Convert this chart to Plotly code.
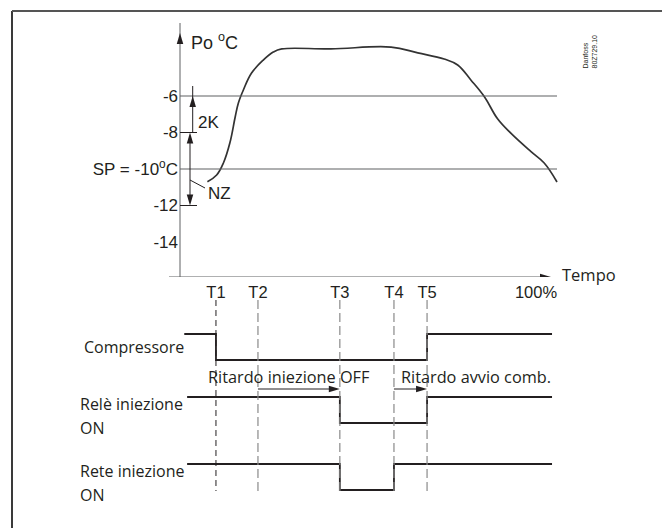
import plotly.graph_objects as go

# ---------------- data ----------------
# evaporating pressure curve (time in % of cycle, temperature in degC)
curve_t = [7.7, 10.3, 12.2, 14.0, 15.5, 16.4, 17.8, 20.1, 23.4, 26.2, 28.6,
           42.4, 59.3, 66.8, 74.2, 78.0, 81.7, 85.5, 89.2, 93.0, 98.6, 102.3, 105.9]
curve_temp = [-10.70, -10.33, -9.67, -8.58, -7.15, -6.38, -5.67, -4.74, -4.03, -3.59, -3.42,
              -3.42, -3.32, -3.64, -3.97, -4.30, -5.12, -6.04, -7.25, -8.05, -9.05, -9.67, -10.71]

# reference temperatures
setpoint = -10
upper_limit = -6
nz_top = -8
nz_bottom = -12
y_ticks = [-6, -8, -10, -12, -14]
y_ticktext = ["-6", "-8", "SP = -10<sup>o</sup>C", "-12", "-14"]

# event times
event_names = ["T1", "T2", "T3", "T4", "T5"]
event_times = [10.1, 21.9, 44.9, 60.1, 69.4]
end_label = "100%"
end_time = 100

# digital signals (time of each change, state after change)
comp_t = [1.2, 10.1, 69.4, 104.5]
comp_s = [1, 0, 1, 1]
rele_t = [2.0, 44.9, 69.4, 104.5]
rele_s = [1, 0, 1, 1]
rete_t = [2.0, 44.9, 60.1, 104.5]
rete_s = [1, 0, 1, 1]

# ---------------- geometry ----------------
W, H = 662, 528
X0_PX = 180.0          # pixel column of t = 0
PX_PER_T = 3.56        # pixels per % of time
YREF_PX = 96.0         # pixel row of -6 degC
PX_PER_DEG = 18.25     # pixels per degC
SPLIT_PX = 277.0       # row of the time axis

x_range = [(0 - X0_PX) / PX_PER_T, (W - X0_PX) / PX_PER_T]
y_top = upper_limit + YREF_PX / PX_PER_DEG
y_bot = upper_limit - (SPLIT_PX - YREF_PX) / PX_PER_DEG
split_frac = 1 - SPLIT_PX / H


def tx(px):
    return (px - X0_PX) / PX_PER_T


def ty(py):
    return upper_limit - (py - YREF_PX) / PX_PER_DEG


UP_FONT = "Liberation Sans, Arial, sans-serif"
LO_FONT = "Open Sans, sans-serif"
INK = "#231f20"
GREY = "#5f6062"

fig = go.Figure()
shapes = []
annotations = []


def arrowhead(x, y, direction, yref="y", length=11, width=6.5, color=INK):
    """Filled triangular head with its tip at (x, y); direction in screen pixels."""
    dx, dy = direction
    sy = -1 / PX_PER_DEG if yref == "y" else 1.0
    bx, by = -dx * length, -dy * length
    px_, py_ = -dy * width / 2, dx * width / 2
    pts = [(0, 0), (bx + px_, by + py_), (bx - px_, by - py_)]
    coords = [(x + a / PX_PER_T, y + b * sy) for a, b in pts]
    path = "M{},{} L{},{} L{},{} Z".format(*[v for p in coords for v in p])
    shapes.append(dict(type="path", path=path, xref="x", yref=yref,
                       fillcolor=color, line=dict(width=0)))


def seg(x0, y0, x1, y1, yref="y", color=INK, width=1, dash="solid"):
    shapes.append(dict(type="line", x0=x0, y0=y0, x1=x1, y1=y1, xref="x", yref=yref,
                       line=dict(color=color, width=width, dash=dash)))


# outer frame
shapes.append(dict(type="line", xref="paper", yref="paper", x0=12 / W, x1=12 / W,
                   y0=0, y1=1 - 11 / H, line=dict(color="#3a3a3a", width=2)))
shapes.append(dict(type="line", xref="paper", yref="paper", x0=12 / W, x1=1,
                   y0=1 - 11 / H, y1=1 - 11 / H, line=dict(color="#555555", width=2)))

# temperature axis with arrow
y_arrow_tip = ty(33)
seg(0, y_bot, 0, y_arrow_tip + 10 / PX_PER_DEG, color=GREY)
arrowhead(0, y_arrow_tip, (0, -1))
# time axis with arrow
t_arrow_tip = tx(551)
seg(tx(169), y_bot, t_arrow_tip - 10 / PX_PER_T, y_bot, color=GREY)
arrowhead(t_arrow_tip, y_bot, (1, 0))

# reference lines at -6 and SP
for v in (upper_limit, setpoint):
    seg(0, v, curve_t[-1], v, color=GREY, width=1.2)
# short ticks at the neutral zone limits
for v in (nz_top, nz_bottom):
    seg(0, v, tx(197), v, color=INK, width=1)

# 2K arrow
x2k = tx(192.7)
seg(x2k, nz_top, x2k, upper_limit + 10 / PX_PER_DEG)
arrowhead(x2k, upper_limit, (0, -1))
# NZ double arrow
xnz = tx(190)
seg(xnz, nz_top - 10 / PX_PER_DEG, xnz, nz_bottom + 10 / PX_PER_DEG)
arrowhead(xnz, nz_top, (0, -1))
arrowhead(xnz, nz_bottom, (0, 1))
# NZ leader
seg(xnz, ty(180), tx(205), ty(188), width=1)

# pressure curve
fig.add_trace(go.Scatter(x=curve_t, y=curve_temp, mode="lines", xaxis="x", yaxis="y",
                         line=dict(color="#333333", width=1.7, shape="spline", smoothing=1.1),
                         hoverinfo="skip"))

# event markers (dashed verticals)
for i, t in enumerate(event_times):
    if i == 0:
        seg(t, 300, t, 491, yref="y2", color=INK, width=1, dash="6px,4px")
    else:
        seg(t, 300, t, 491, yref="y2", color="#8a8a8a", width=1.2, dash="9px,4px")

# digital signals
AMP = 26
rows = [(comp_t, comp_s, 360), (rele_t, rele_s, 423), (rete_t, rete_s, 490)]
for ts, ss, base in rows:
    fig.add_trace(go.Scatter(x=ts, y=[base - s * AMP for s in ss], mode="lines",
                             xaxis="x", yaxis="y2", hoverinfo="skip",
                             line=dict(color=INK, width=1.8, shape="hv")))

# delay arrows
Y_DELAY = 389
for t0, t1 in ((event_times[1], event_times[2]), (event_times[3], event_times[4])):
    seg(t0, Y_DELAY, t1 - 10 / PX_PER_T, Y_DELAY, yref="y2", width=1)
    arrowhead(t1, Y_DELAY, (1, 0), yref="y2")

# ---------------- text ----------------
def note(text, x, y, yref="y", xanchor="left", size=15, family=UP_FONT, **kw):
    annotations.append(dict(text=text, x=x, y=y, xref="x", yref=yref, xanchor=xanchor,
                            yanchor="middle", showarrow=False,
                            font=dict(family=family, size=size, color=INK), **kw))


note("Po <sup>o</sup>C", tx(189), ty(41.7), size=18)
note("2K", tx(196), ty(122.5), size=17)
note("NZ", tx(206), ty(193), size=17)
note("Tempo", tx(560), ty(274), size=16.5, family=LO_FONT)
note("Danfoss<br>80Z729.10", tx(589.5), ty(52), size=7, textangle=-90, align="left",
     xanchor="center")

note("Compressore", tx(186), 347, yref="y2", xanchor="right", size=16, family=LO_FONT)
note("Relè iniezione", tx(78), 404, yref="y2", size=16, family=LO_FONT)
note("ON", tx(78), 428, yref="y2", size=16, family=LO_FONT)
note("Rete iniezione", tx(78), 471, yref="y2", size=16, family=LO_FONT)
note("ON", tx(78), 495, yref="y2", size=16, family=LO_FONT)
note("Ritardo iniezione OFF", tx(206), 377, yref="y2", size=16.3, family=LO_FONT)
note("Ritardo avvio comb.", tx(399), 377, yref="y2", size=16.3, family=LO_FONT)

fig.update_layout(
    width=W, height=H,
    margin=dict(l=0, r=0, t=0, b=0),
    paper_bgcolor="white", plot_bgcolor="white",
    showlegend=False, hovermode=False,
    shapes=shapes, annotations=annotations,
    xaxis=dict(domain=[0, 1], range=x_range, anchor="y", showgrid=False, zeroline=False,
               showline=False, ticks="", automargin=False,
               tickvals=event_times + [end_time], ticktext=event_names + [end_label],
               tickfont=dict(family=UP_FONT, size=16.5, color=INK), ticklabelstandoff=3),
    yaxis=dict(domain=[split_frac, 1], range=[y_bot, y_top], anchor="free",
               position=X0_PX / W, showgrid=False, zeroline=False, showline=False,
               ticks="", automargin=False, tickvals=y_ticks, ticktext=y_ticktext,
               tickfont=dict(family=UP_FONT, size=17, color=INK), ticklabelstandoff=2),
    yaxis2=dict(domain=[0, split_frac], range=[H, SPLIT_PX], anchor="x", visible=False,
                showgrid=False, zeroline=False),
)

fig.write_html("out.html")
